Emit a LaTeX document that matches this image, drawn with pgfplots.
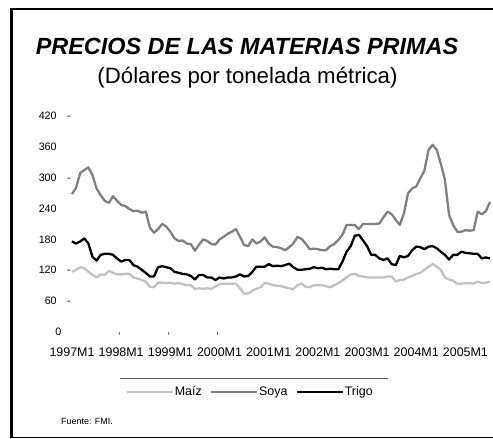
\documentclass[border=0pt]{standalone}
\usepackage{fontspec}
\setmainfont{Liberation Sans}
\usepackage{pgfplots}
\usepackage{pgfplotstable}
\pgfplotsset{compat=1.18}
\definecolor{maiz}{gray}{0.76}
\definecolor{soya}{gray}{0.50}
\newcommand{\yl}[2]{\fontsize{10.8}{13}\selectfont\makebox[0pt][r]{#1\hspace{10.5bp}#2}}
\newcommand{\ylz}{\fontsize{10.8}{13}\selectfont\makebox[0pt][r]{0\hspace{9.5bp}}}

\pgfplotstableread{
m maiz soya trigo
0 117 268 176
1 121 281 172
2 126 309 176
3 124 315 182
4 117 320 172
5 111 305 146
6 106 279 139
7 112 266 150
8 111 255 152
9 119 251 152
10 115 264 150
11 112 255 143
12 112 247 137
13 113 245 140
14 113 239 140
15 106 235 130
16 104 236 127
17 101 232 121
18 98 234 115
19 88 203 108
20 87 193 108
21 96 200 126
22 96 210 128
23 95 205 126
24 96 195 124
25 94 182 117
26 95 177 115
27 93 178 113
28 91 172 112
29 91 171 109
30 83 158 102
31 85 170 111
32 84 180 111
33 85 177 106
34 84 171 106
35 88 170 101
36 93 180 106
37 94 185 104
38 94 191 106
39 94 195 106
40 94 200 108
41 85 185 112
42 74 169 108
43 75 167 109
44 80 180 117
45 84 172 127
46 87 176 127
47 95 184 127
48 94 172 132
49 91 166 128
50 90 165 129
51 89 163 128
52 87 159 130
53 85 165 133
54 83 172 126
55 91 185 121
56 94 181 121
57 88 172 122
58 87 161 123
59 91 162 126
60 91 161 124
61 91 159 125
62 89 159 122
63 87 167 123
64 91 171 122
65 95 179 122
66 100 189 137
67 106 208 156
68 112 208 167
69 113 208 187
70 109 200 189
71 108 210 178
72 106 210 167
73 106 210 150
74 106 210 150
75 106 211 143
76 106 223 140
77 108 234 143
78 108 229 132
79 98 218 130
80 101 208 148
81 102 231 145
82 106 270 148
83 109 279 159
84 113 283 166
85 115 299 165
86 121 314 161
87 127 354 166
88 132 364 167
89 127 354 163
90 121 327 156
91 106 296 150
92 102 228 141
93 100 208 150
94 94 195 150
95 94 195 156
96 95 198 154
97 95 197 153
98 94 198 152
99 98 234 152
100 95 229 143
101 96 235 145
102 98 253 143
}\prices

\begin{document}
\begin{tikzpicture}[x=1bp,y=1bp]
\path[use as bounding box] (0,0) rectangle (493,439);
% frame
\fill[black] (10,1) rectangle (13.3,430.5);
\draw[line width=1.6bp] (10,429.7) -- (495,429.7);
\draw[line width=1.6bp] (10,1.6) -- (495,1.6);
% titles
\node[anchor=base, inner sep=0pt] at (247,384) {\fontsize{23.5}{28}\selectfont\bfseries\itshape PRECIOS DE LAS MATERIAS PRIMAS};
\node[anchor=base, inner sep=0pt] at (247.5,355) {\fontsize{22.3}{26}\selectfont (Dólares por tonelada métrica)};

\begin{axis}[
  at={(72bp,107bp)}, anchor=south west,
  scale only axis, width=418bp, height=216bp,
  xmin=0, xmax=102, ymin=0, ymax=420,
  clip=false,
  axis line style={draw=none},
  major tick length=0pt,
  xtick pos=bottom, ytick pos=left,
  xtick={0,12,...,96},
  xticklabels={1997M1,1998M1,1999M1,2000M1,2001M1,2002M1,2003M1,2004M1,2005M1},
  ytick={0,60,...,420},
  yticklabels={\ylz,\yl{60}{-},\yl{120}{-},\yl{180}{\phantom{-}},\yl{240}{\phantom{-}},\yl{300}{-},\yl{360}{\phantom{-}},\yl{420}{-}},
  /pgf/number format/assume math mode=true,
  xticklabel style={anchor=base, inner sep=0pt, yshift=-25bp, font=\fontsize{12.5}{14}\selectfont},
  yticklabel style={anchor=center, inner sep=0pt, xshift=-1.2bp},
  extra x ticks={11.5,23.5,35.5},
  extra x tick labels={},
  extra x tick style={major tick length=3.5bp, tick align=outside, tick style={draw=gray, line width=0.6bp}},
  legend columns=3,
  legend style={at={(0.425,-0.278)}, anchor=center, draw=none, fill=none, inner sep=0pt,
    font=\fontsize{12.5}{14}\selectfont,
    nodes={inner sep=1bp},
    /tikz/every even column/.append style={column sep=7bp}},
  legend image code/.code={\draw[#1] (0bp,0bp) -- (46bp,0bp);},
  every axis plot/.append style={line width=2.3bp, line join=round},
]
\addplot[maiz, mark=none] table[x=m, y=maiz] {\prices};
\addlegendentry{Maíz}
\addplot[soya, mark=none] table[x=m, y=soya] {\prices};
\addlegendentry{Soya}
\addplot[black, mark=none] table[x=m, y=trigo] {\prices};
\addlegendentry{Trigo}
\end{axis}
\draw[gray!70!black, line width=0.8bp] (120,61) -- (388,61);
\node[anchor=base west, inner sep=0pt] at (61,14) {\fontsize{9}{11}\selectfont Fuente: FMI.};
\end{tikzpicture}
\end{document}
